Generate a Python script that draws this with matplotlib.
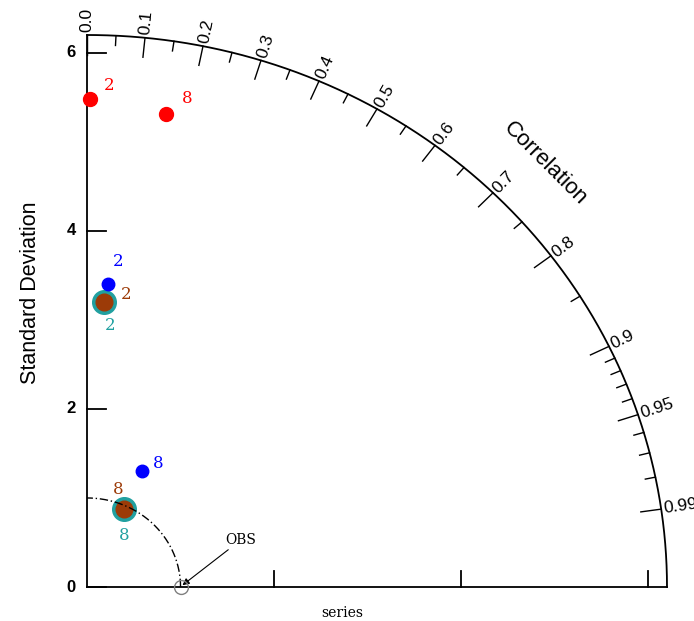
import numpy as np
import matplotlib
matplotlib.use("Agg")
import matplotlib.pyplot as plt

# model cases: std dev and correlation
case_labels = ["2", "8"]
red_std = [5.48, 5.38]
red_corr = [0.006, 0.157]
blue_std = [3.41, 1.43]
blue_corr = [0.066, 0.41]
brown_std = [3.21, 0.963]
brown_corr = [0.057, 0.41]
teal_std = [3.21, 0.963]
teal_corr = [0.057, 0.41]

obs_std = 1.0
max_std = 6.2
std_ticks = [0, 2, 4, 6]
corr_major = [0.0, 0.1, 0.2, 0.3, 0.4, 0.5, 0.6, 0.7, 0.8, 0.9, 0.95, 0.99]
corr_minor = [0.05, 0.15, 0.25, 0.35, 0.45, 0.55, 0.65, 0.75, 0.85,
              0.91, 0.92, 0.93, 0.94, 0.96, 0.97, 0.98]


def to_xy(std, corr):
    std = np.asarray(std)
    corr = np.asarray(corr)
    return std * corr, std * np.sqrt(1 - corr ** 2)


fig = plt.figure(figsize=(6.94, 6.21), dpi=100)
ax = fig.add_axes([87 / 694, 34 / 621, 580 / 694, 552 / 621])
ax.set_xlim(0, max_std)
ax.set_ylim(0, max_std)
ax.axis("off")

lw = 1.3
# axes lines
ax.plot([0, 0], [0, max_std], color="black", lw=lw, clip_on=False)
ax.plot([0, max_std], [0, 0], color="black", lw=lw, clip_on=False)

# outer arc
th = np.linspace(0, np.pi / 2, 400)
ax.plot(max_std * np.cos(th), max_std * np.sin(th), color="black", lw=lw, clip_on=False)

# std ticks
for s in std_ticks:
    ax.plot([0, 0.2], [s, s], color="black", lw=lw, clip_on=False)
    ax.text(-0.12, s, str(s), ha="right", va="center", fontsize=12,
            fontweight="bold", family="Liberation Sans")
    if s > 0:
        ax.plot([s, s], [0, 0.18], color="black", lw=lw, clip_on=False)

# correlation ticks
for c in corr_major:
    a = np.arccos(c)
    r0 = max_std - 0.22
    ax.plot([r0 * np.cos(a), max_std * np.cos(a)], [r0 * np.sin(a), max_std * np.sin(a)],
            color="black", lw=1.0, clip_on=False)
    lbl = "%.1f" % c if c not in (0.95, 0.99) else "%.2f" % c
    ax.text(max_std * 1.005 * np.cos(a), max_std * 1.005 * np.sin(a), lbl,
            rotation=np.degrees(a), rotation_mode="anchor", ha="left", va="center",
            fontsize=12.5, family="Liberation Sans", clip_on=False)
for c in corr_minor:
    a = np.arccos(c)
    r0 = max_std - 0.11
    ax.plot([r0 * np.cos(a), max_std * np.cos(a)], [r0 * np.sin(a), max_std * np.sin(a)],
            color="black", lw=1.0, clip_on=False)

# reference std arc
ax.plot(obs_std * np.cos(th), obs_std * np.sin(th), color="black", lw=1.0,
        ls=(0, (6, 2, 1, 2)), zorder=5, clip_on=False)
ax.plot([obs_std], [0], marker="o", ms=10, mfc="none", mec="gray", mew=1,
        clip_on=False, zorder=6)
ax.annotate("OBS", xy=(1.02, 0.02), xytext=(1.48, 0.45), fontsize=10,
            family="DejaVu Serif", ha="left", va="bottom",
            arrowprops=dict(arrowstyle="-|>", color="black", lw=0.8,
                            shrinkA=0, shrinkB=0, mutation_scale=10))

# cases
def draw_case(std, corr, color, ms, offsets, edge=None):
    xs, ys = to_xy(std, corr)
    ax.plot(xs, ys, ls="none", marker="o", ms=ms, mfc=color,
            mec=color if edge is None else edge, zorder=4, clip_on=False)
    for x, y, lab, off in zip(xs, ys, case_labels, offsets):
        ax.annotate(lab, xy=(x, y), xytext=off, textcoords="offset points",
                    ha="center", va="center", color=color, fontsize=12,
                    family="DejaVu Serif")


draw_case(teal_std, teal_corr, "#20a0a0", 17, [(4, -17), (0, -19)])
draw_case(brown_std, brown_corr, "#9c3b08", 12, [(16, 5), (-4, 14)])
draw_case(blue_std, blue_corr, "#0000ff", 9, [(7, 16), (12, 5)])
draw_case(red_std, red_corr, "#ff0000", 10, [(14, 10), (15, 11)])

ax.text(-0.6, 3.31, "Standard Deviation", rotation=90, ha="center", va="center",
        fontsize=15.5, family="Liberation Sans")
ax.text(4.9, 4.76, "Correlation", rotation=-45, ha="center", va="center",
        fontsize=16, family="Liberation Sans")
ax.text(2.73, -0.29, "series", ha="center", va="center", fontsize=10,
        family="DejaVu Serif")

fig.savefig("out.png", dpi=100)
